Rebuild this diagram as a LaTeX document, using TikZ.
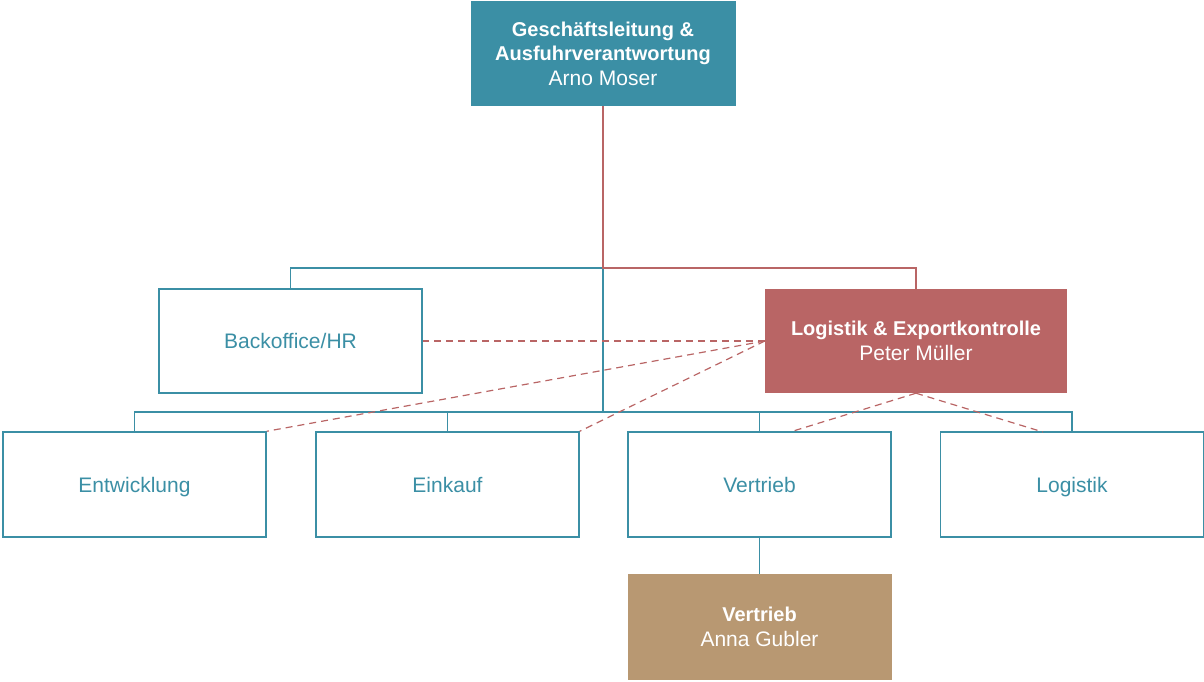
\documentclass[tikz,border=0pt]{standalone}
\usepackage{fontspec}
\setmainfont{Liberation Sans}
\usetikzlibrary{calc}
\definecolor{teal1}{HTML}{3B8FA5}
\definecolor{red1}{HTML}{B96565}
\definecolor{tan1}{HTML}{B89872}
\newcommand{\bt}[1]{{\fontsize{20}{24.5}\selectfont\bfseries #1}}
\begin{document}
\begin{tikzpicture}[x=1pt,y=-1pt,
  box/.style={rectangle, minimum height=104pt, inner sep=0pt, align=center, font=\fontsize{21}{24.5}\selectfont},
  wbox/.style={box, draw=teal1, line width=1.5pt, fill=white, text=teal1, minimum width=263pt},
  rowbox/.style={wbox, minimum height=105pt, text height=16pt, text depth=0pt},
  fbox/.style={box, text=white},
  tline/.style={draw=teal1, line width=1.5pt},
  rline/.style={draw=red1, line width=1.5pt},
  dline/.style={draw=red1, line width=1.2pt, dash pattern=on 7pt off 5pt}]
\useasboundingbox (0,0) rectangle (1204,681);
% nodes
\node[fbox, fill=teal1, minimum width=265pt, minimum height=105pt] (gl) at (603,53.5) {\bt{Geschäftsleitung \&}\\\bt{Ausfuhrverantwortung}\\Arno Moser};
\node[wbox] (bo) at (290.5,341) {Backoffice/HR};
\node[fbox, fill=red1, minimum width=302pt] (lek) at (916,341) {\bt{Logistik \& Exportkontrolle}\\Peter Müller};
\node[rowbox] (ent) at (134.5,484.5) {Entwicklung};
\node[rowbox] (ein) at (447.5,484.5) {Einkauf};
\node[rowbox] (ver) at (759.5,484.5) {Vertrieb};
\node[rowbox] (log) at (1072,484.5) {Logistik};
\node[fbox, fill=tan1, minimum width=264pt, minimum height=106pt] (ag) at (759.5,627) {\bt{Vertrieb}\\Anna Gubler};
% junctions
\coordinate (j1) at (603,268);
\coordinate (j2) at (603,412);
\coordinate (dv) at (790,432);
\coordinate (dl) at (1043,432);
% solid connectors
\draw[tline] (j1) -| (bo.north);
\draw[tline] (j1) -- (j2);
\draw[tline] (j2) -| (ent.north);
\draw[tline] (j2) -| (ein.north);
\draw[tline] (j2) -| (ver.north);
\draw[tline] (j2) -| (log.north);
\draw[tline] (ver.south) -- (ag.north);
\draw[rline] (gl.south) -- (j1) -| (lek.north);
% dashed connectors
\draw[dline] (lek.west) -- (bo.east);
\draw[dline] (lek.west) -- (ent.north east);
\draw[dline] (lek.west) -- (ein.north east);
\draw[dline] (lek.south) -- (dv);
\draw[dline] (lek.south) -- (dl);
\end{tikzpicture}
\end{document}
